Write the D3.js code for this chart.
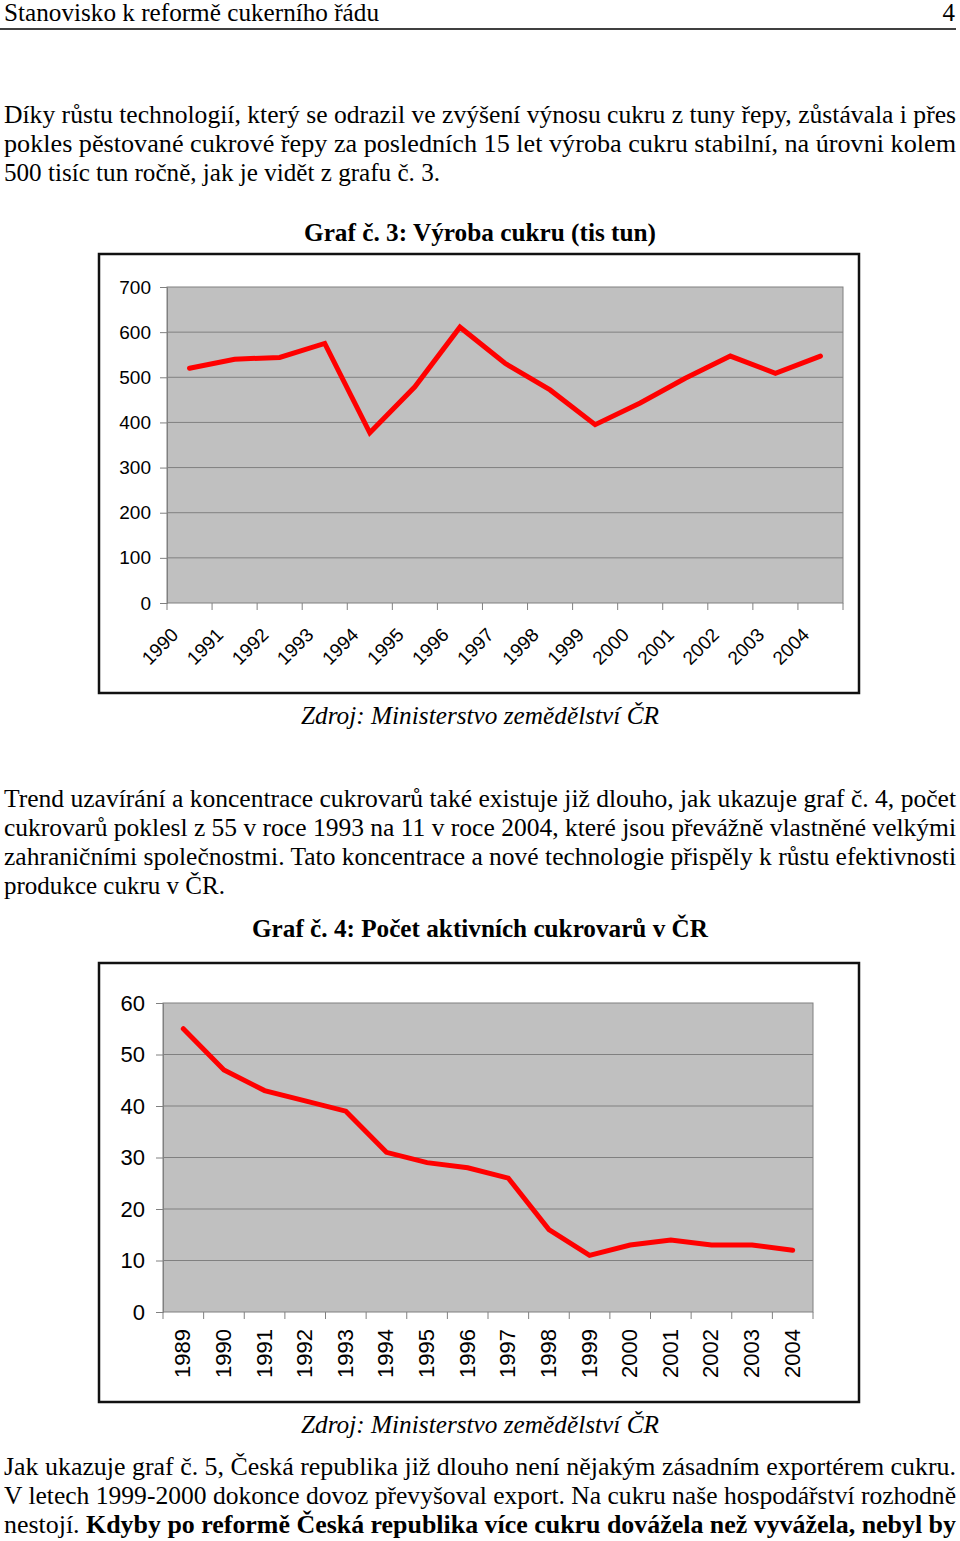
<!DOCTYPE html>
<html>
<head>
<meta charset="utf-8">
<script src="https://cdnjs.cloudflare.com/ajax/libs/d3/7.8.5/d3.min.js"></script>
<style>
  body { margin: 0; background: #fff; }
  svg { display: block; }
  .serif { font-family: "Liberation Serif", "Times New Roman", Times, serif; font-size: 25px; fill: #000; }
  .sans { font-family: "Liberation Sans", Arial, sans-serif; fill: #000; }
</style>
</head>
<body>
<svg id="page" width="960" height="1541"></svg>
<script>
// graf 3 - vyroba cukru (tis tun)
var years3 = ["1990","1991","1992","1993","1994","1995","1996","1997","1998","1999","2000","2001","2002","2003","2004"];
var production = [520, 540, 544, 575, 377, 479, 611, 531, 472, 395, 443, 498, 547, 509, 547];
var ticks3 = [0, 100, 200, 300, 400, 500, 600, 700];

// graf 4 - pocet aktivnich cukrovaru
var years4 = ["1989","1990","1991","1992","1993","1994","1995","1996","1997","1998","1999","2000","2001","2002","2003","2004"];
var factories = [55, 47, 43, 41, 39, 31, 29, 28, 26, 16, 11, 13, 14, 13, 13, 12];
var ticks4 = [0, 10, 20, 30, 40, 50, 60];

// texty stranky: [text, y, sirka]
var pageLines = [
  ["Díky růstu technologií, který se odrazil  ve zvýšení výnosu cukru z tuny řepy, zůstávala i přes", 123, 952],
  ["pokles pěstované cukrové řepy za posledních 15 let výroba cukru stabilní, na úrovni kolem", 152, 952],
  ["500 tisíc tun ročně, jak je vidět z grafu č. 3.", 181, 436],
  ["Trend uzavírání a koncentrace cukrovarů také existuje již dlouho, jak ukazuje graf č. 4, počet", 807, 952],
  ["cukrovarů poklesl z 55 v roce 1993 na 11 v roce 2004, které jsou převážně vlastněné velkými", 836, 952],
  ["zahraničními společnostmi. Tato koncentrace a nové technologie přispěly k růstu efektivnosti", 865, 952],
  ["produkce cukru v ČR.", 894, 221],
  ["Jak ukazuje graf č. 5, Česká republika již dlouho není nějakým zásadním exportérem cukru.", 1475, 952],
  ["V letech 1999-2000 dokonce dovoz převyšoval export. Na cukru naše hospodářství rozhodně", 1504, 952]
];

var svg = d3.select("#page");

// hlavicka
svg.append("text").attr("class", "serif").attr("x", 4).attr("y", 21)
  .attr("textLength", 375).attr("lengthAdjust", "spacingAndGlyphs")
  .text("Stanovisko k reformě cukerního řádu");
svg.append("text").attr("class", "serif").attr("x", 955).attr("y", 21)
  .attr("text-anchor", "end").text("4");
svg.append("line").attr("x1", 0).attr("x2", 956).attr("y1", 29).attr("y2", 29)
  .attr("stroke", "#000").attr("stroke-width", 1.5);

svg.selectAll(".para").data(pageLines).enter().append("text")
  .attr("class", "serif para")
  .attr("x", 4)
  .attr("y", function(d) { return d[1]; })
  .attr("textLength", function(d) { return d[2]; })
  .attr("lengthAdjust", "spacingAndGlyphs")
  .text(function(d) { return d[0]; });

// posledni radek s tucnou casti
var last = svg.append("text").attr("class", "serif").attr("x", 4).attr("y", 1533)
  .attr("textLength", 952).attr("lengthAdjust", "spacingAndGlyphs");
last.append("tspan").text("nestojí. ");
last.append("tspan").attr("font-weight", "bold").text("Kdyby po reformě Česká republika více cukru dovážela než vyvážela, nebyl by");

function caption(txt, x, y, w, bold) {
  svg.append("text").attr("class", "serif").attr("x", x).attr("y", y)
    .attr("font-weight", bold ? "bold" : null)
    .attr("font-style", bold ? null : "italic")
    .attr("textLength", w).attr("lengthAdjust", "spacingAndGlyphs")
    .text(txt);
}

caption("Graf č. 3: Výroba cukru (tis tun)", 304, 241, 352, true);
caption("Zdroj: Ministerstvo zemědělství ČR", 301, 724, 358, false);
caption("Graf č. 4: Počet aktivních cukrovarů v ČR", 252, 937, 456, true);
caption("Zdroj: Ministerstvo zemědělství ČR", 301, 1433, 358, false);

function lineChart(opt) {
  var g = svg.append("g");

  g.append("rect").attr("x", opt.box[0]).attr("y", opt.box[1])
    .attr("width", opt.box[2]).attr("height", opt.box[3])
    .attr("fill", "#fff").attr("stroke", "#111").attr("stroke-width", 2.5);

  var x = d3.scaleBand().domain(opt.cats).range([opt.left, opt.right]);
  var y = d3.scaleLinear().domain([0, d3.max(opt.ticks)]).range([opt.bottom, opt.top]);

  g.append("rect").attr("x", opt.left).attr("y", opt.top)
    .attr("width", opt.right - opt.left).attr("height", opt.bottom - opt.top)
    .attr("fill", "#c0c0c0").attr("stroke", "#808080").attr("stroke-width", 1);

  g.selectAll(".grid").data(opt.ticks.slice(1, -1)).enter().append("line")
    .attr("x1", opt.left).attr("x2", opt.right)
    .attr("y1", function(d) { return y(d); }).attr("y2", function(d) { return y(d); })
    .attr("stroke", "#808080").attr("stroke-width", 1);

  var yAxis = g.append("g").attr("transform", "translate(" + opt.left + ",0)")
    .call(d3.axisLeft(y).tickValues(opt.ticks).tickSize(7).tickPadding(opt.ypad));
  yAxis.select(".domain").attr("stroke", "#808080");
  yAxis.selectAll(".tick line").attr("stroke", "#808080");
  yAxis.selectAll("text").attr("class", "sans").attr("font-size", opt.fs)
    .attr("font-family", "Liberation Sans, Arial, sans-serif").attr("fill", "#000");

  // ticks na hranicich kategorii
  var edges = opt.cats.map(function(c) { return x(c); }).concat([opt.right]);
  g.selectAll(".xt").data(edges).enter().append("line")
    .attr("x1", function(d) { return d; }).attr("x2", function(d) { return d; })
    .attr("y1", opt.bottom).attr("y2", opt.bottom + 7)
    .attr("stroke", "#808080");

  g.selectAll(".xl").data(opt.cats).enter().append("text")
    .attr("class", "sans").attr("font-size", opt.fs)
    .attr("text-anchor", "end")
    .attr("transform", function(d) {
      var cx = x(d) + x.bandwidth() / 2 + opt.lx;
      return "translate(" + cx + "," + opt.ly + ") rotate(" + opt.rot + ")";
    })
    .text(function(d) { return d; });

  var line = d3.line()
    .x(function(d, i) { return x(opt.cats[i]) + x.bandwidth() / 2; })
    .y(function(d) { return y(d); });

  g.append("path").datum(opt.values).attr("d", line)
    .attr("fill", "none").attr("stroke", "#ff0000").attr("stroke-width", 5)
    .attr("stroke-linejoin", "miter").attr("stroke-linecap", "round");
}

lineChart({
  box: [99, 254, 760, 439], cats: years3, values: production, ticks: ticks3,
  left: 167, right: 843, top: 287, bottom: 603,
  fs: 19, ypad: 9, rot: -45, lx: -10, ly: 636
});

lineChart({
  box: [99, 963, 760, 439], cats: years4, values: factories, ticks: ticks4,
  left: 163, right: 813, top: 1003, bottom: 1312,
  fs: 22, ypad: 11, rot: -90, lx: 7, ly: 1329
});
</script>
</body>
</html>
